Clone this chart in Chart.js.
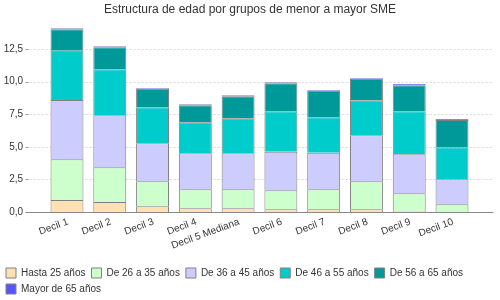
<!DOCTYPE html>
<html lang="es">
<head>
    <meta charset="UTF-8">
    <title>Estructura de edad por grupos de menor a mayor SME</title>
    <script src="https://cdn.jsdelivr.net/npm/chart.js"></script>
    <style>
        body { margin: 0; background: #fff; }
        #wrap { width: 500px; height: 300px; position: relative; }
    </style>
</head>
<body>
    <div id="wrap"><canvas id="grafico"></canvas></div>

    <script>
        // deciles de ingreso
        const deciles = ["Decil 1", "Decil 2", "Decil 3", "Decil 4", "Decil 5 Mediana",
                         "Decil 6", "Decil 7", "Decil 8", "Decil 9", "Decil 10"];

        // valores (por grupo de edad)
        const hasta25  = [0.92, 0.77, 0.44, 0.28, 0.28, 0.21, 0.21, 0.21, 0.10, 0.00];
        const de26a35  = [3.12, 2.66, 1.91, 1.46, 1.46, 1.45, 1.53, 2.14, 1.33, 0.59];
        const de36a45  = [4.55, 3.99, 2.92, 2.76, 2.76, 2.96, 2.81, 3.53, 2.99, 1.92];
        const de46a55  = [3.78, 3.52, 2.76, 2.38, 2.68, 3.10, 2.71, 2.69, 3.30, 2.45];
        const de56a65  = [1.64, 1.69, 1.43, 1.30, 1.69, 2.15, 2.04, 1.65, 2.00, 2.10];
        const mayor65  = [0.08, 0.08, 0.05, 0.08, 0.08, 0.08, 0.06, 0.06, 0.10, 0.07];

        const yTicks = [0, 2.5, 5, 7.5, 10, 12.5];

        const grupos = [
            { label: "Hasta 25 años",    data: hasta25, color: "#FFE0B3" },
            { label: "De 26 a 35 años",  data: de26a35, color: "#CCFFCC" },
            { label: "De 36 a 45 años",  data: de36a45, color: "#CCCCFF" },
            { label: "De 46 a 55 años",  data: de46a55, color: "#00CCCC" },
            { label: "De 56 a 65 años",  data: de56a65, color: "#009999" },
            { label: "Mayor de 65 años", data: mayor65, color: "#5555FF" }
        ];

        const FONT = "'Liberation Sans', Arial, sans-serif";

        // grilla punteada y eje 0, un poco mas anchos que el area de barras
        const grilla = {
            id: "grilla",
            beforeDatasetsDraw(chart) {
                const { ctx, chartArea, scales: { y } } = chart;
                const x0 = chartArea.left - 16;
                const x1 = chartArea.right + 20;
                ctx.save();
                ctx.lineWidth = 1;
                yTicks.forEach(v => {
                    const py = Math.round(y.getPixelForValue(v)) + 0.5;
                    ctx.setLineDash([]);
                    ctx.strokeStyle = "#999";
                    ctx.beginPath();
                    ctx.moveTo(x0 - 4, py);
                    ctx.lineTo(x0 - 1, py);
                    ctx.stroke();
                    if (v !== 0) {
                        ctx.setLineDash([2, 2]);
                        ctx.strokeStyle = "#d8d8d8";
                        ctx.beginPath();
                        ctx.moveTo(x0, py);
                        ctx.lineTo(x1, py);
                        ctx.stroke();
                    }
                });
                ctx.restore();
            },
            afterDatasetsDraw(chart) {
                const { ctx, chartArea, scales: { y } } = chart;
                const py = Math.round(y.getPixelForValue(0)) + 0.5;
                ctx.save();
                ctx.strokeStyle = "#888";
                ctx.lineWidth = 1;
                ctx.beginPath();
                ctx.moveTo(chartArea.left - 20, py);
                ctx.lineTo(chartArea.right + 20, py);
                ctx.stroke();
                ctx.restore();
            }
        };

        new Chart(document.getElementById("grafico"), {
            type: "bar",
            data: {
                labels: deciles,
                datasets: grupos.map(g => ({
                    label: g.label,
                    data: g.data,
                    backgroundColor: g.color,
                    borderColor: "#808080",
                    borderWidth: 1,
                    borderSkipped: "start",
                    barPercentage: 0.77,
                    categoryPercentage: 1
                }))
            },
            options: {
                responsive: true,
                maintainAspectRatio: false,
                animation: false,
                layout: { padding: { left: 0, right: 0, top: 0, bottom: -4 } },
                plugins: {
                    title: {
                        display: true,
                        text: "Estructura de edad por grupos de menor a mayor SME",
                        color: "#333",
                        font: { family: FONT, size: 12, weight: "normal" },
                        padding: { top: 2, bottom: 2.6 }
                    },
                    legend: {
                        position: "bottom",
                        align: "start",
                        labels: {
                            boxWidth: 10,
                            boxHeight: 10,
                            padding: 6,
                            color: "#333",
                            font: { family: FONT, size: 10 }
                        }
                    },
                    tooltip: { enabled: false }
                },
                scales: {
                    x: {
                        stacked: true,
                        grid: { display: false, drawTicks: false },
                        border: { display: false },
                        ticks: {
                            minRotation: 20,
                            maxRotation: 20,
                            autoSkip: false,
                            padding: 4,
                            labelOffset: 1,
                            color: "#333",
                            font: { family: FONT, size: 10 }
                        },
                        afterFit: s => { s.height = 50; }
                    },
                    y: {
                        stacked: true,
                        min: 0,
                        max: 14.8,
                        grid: { display: false, drawTicks: true, tickLength: 19.5 },
                        border: { display: false },
                        ticks: {
                            stepSize: 2.5,
                            includeBounds: false,
                            padding: 3,
                            color: "#333",
                            font: { family: FONT, size: 10 },
                            callback: v => v.toFixed(1).replace(".", ",")
                        },
                        afterFit: s => { s.width = 45.6; }
                    },
                    derecha: {
                        position: "right",
                        grid: { display: false, drawTicks: false },
                        border: { display: false },
                        ticks: { display: false },
                        afterFit: s => { s.width = 26.6; }
                    }
                }
            },
            plugins: [grilla]
        });
    </script>
</body>
</html>
